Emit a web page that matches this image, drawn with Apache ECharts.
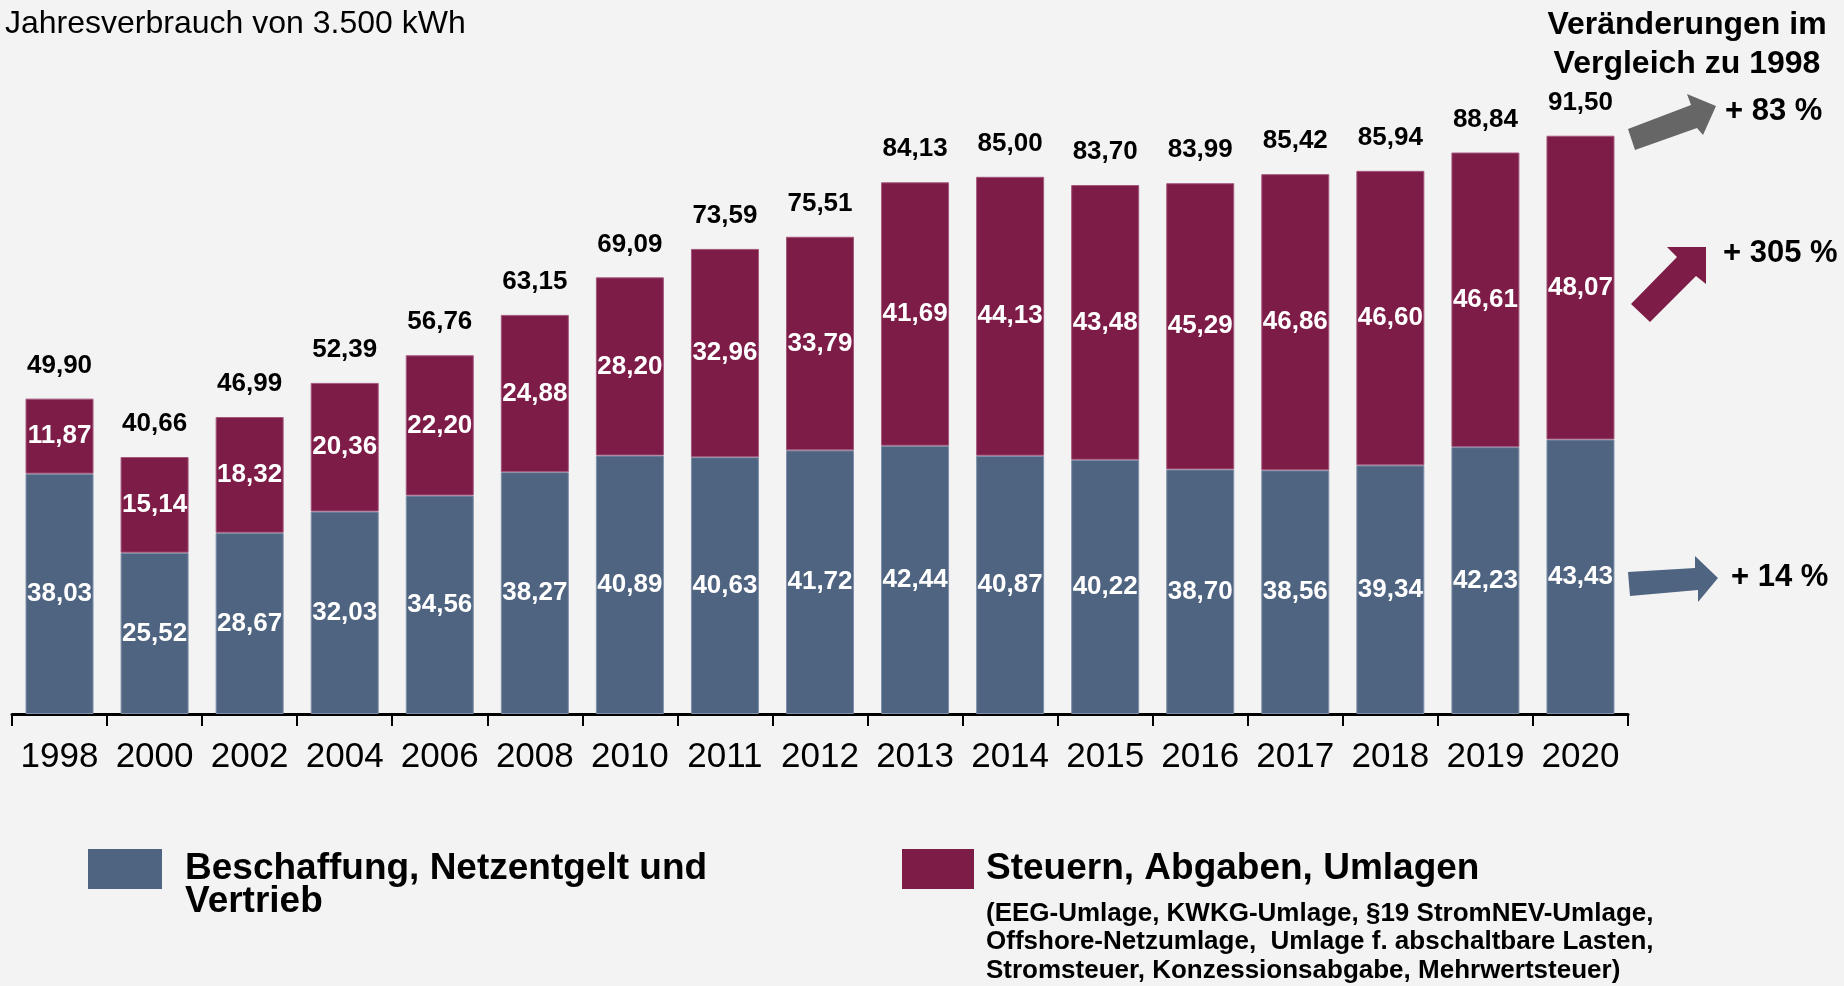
<!DOCTYPE html>
<html>
<head>
<meta charset="utf-8">
<script src="https://cdn.jsdelivr.net/npm/echarts@6/dist/echarts.min.js"></script>
<style>
  html, body { margin: 0; padding: 0; background: #F3F3F3; }
  #chart { width: 1844px; height: 986px; }
</style>
</head>
<body>
<div id="chart"></div>
<script>
(function(){
	var years = ['1998','2000','2002','2004','2006','2008','2010','2011','2012','2013','2014','2015','2016','2017','2018','2019','2020'];
	var beschaffung = [38.03,25.52,28.67,32.03,34.56,38.27,40.89,40.63,41.72,42.44,40.87,40.22,38.70,38.56,39.34,42.23,43.43];
	var steuern = [11.87,15.14,18.32,20.36,22.20,24.88,28.20,32.96,33.79,41.69,44.13,43.48,45.29,46.86,46.60,46.61,48.07];
	var summe = [49.90,40.66,46.99,52.39,56.76,63.15,69.09,73.59,75.51,84.13,85.00,83.70,83.99,85.42,85.94,88.84,91.50];
	var changes = ['+ 83 %', '+ 305 %', '+ 14 %'];

	var font = '"Liberation Sans", Arial, sans-serif';
	var blue = '#4F6481';
	var maroon = '#7E1C48';
	var fmt = function(v){ return v.toFixed(2).replace('.', ','); };

	var option = {
		backgroundColor: '#F3F3F3',
		animation: false,
		textStyle: { fontFamily: font },
		title: {
			text: 'Jahresverbrauch von 3.500 kWh',
			left: 5,
			top: 8,
			padding: 0,
			textStyle: { fontFamily: font, fontSize: 32, fontWeight: 'normal', color: '#000' }
		},
		grid: { left: 12, right: 216, top: 82, bottom: 272 },
		xAxis: {
			type: 'category',
			data: years,
			axisLine: { lineStyle: { color: '#000', width: 3 } },
			axisTick: { show: true, length: 12, lineStyle: { color: '#000', width: 2 } },
			axisLabel: { interval: 0, margin: 26, fontSize: 35, color: '#000', fontFamily: font }
		},
		yAxis: {
			type: 'value',
			min: 0,
			max: 100,
			show: false,
			splitLine: { show: false }
		},
		legend: [
			{
				data: ['Beschaffung, Netzentgelt und Vertrieb'],
				left: 88,
				top: 849,
				padding: 0,
				icon: 'rect',
				itemWidth: 74,
				itemHeight: 40,
				itemStyle: { borderWidth: 0 },
				selectedMode: false,
				formatter: function(){ return 'Beschaffung, Netzentgelt und'; },
				textStyle: {
					fontFamily: font, fontSize: 37, fontWeight: 'bold', color: '#000',
					padding: [0, 0, 0, 18]
				}
			},
			{
				data: ['Steuern, Abgaben, Umlagen'],
				left: 902,
				top: 849,
				padding: 0,
				icon: 'rect',
				itemWidth: 72,
				itemHeight: 40,
				itemStyle: { borderWidth: 0 },
				selectedMode: false,
				textStyle: {
					fontFamily: font, fontSize: 37, fontWeight: 'bold', color: '#000',
					padding: [0, 0, 0, 7]
				}
			}
		],
		graphic: [
			{
				type: 'text',
				x: 185, y: 902,
				style: {
					text: 'Vertrieb',
					font: 'bold 37px ' + font,
					fill: '#000',
					verticalAlign: 'middle'
				}
			},
			{
				type: 'text',
				x: 986, y: 942,
				style: {
					text: '(EEG-Umlage, KWKG-Umlage, §19 StromNEV-Umlage,\nOffshore-Netzumlage,  Umlage f. abschaltbare Lasten,\nStromsteuer, Konzessionsabgabe, Mehrwertsteuer)',
					font: 'bold 26px ' + font,
					lineHeight: 28.5,
					fill: '#000',
					verticalAlign: 'middle'
				}
			},
			{
				type: 'text',
				x: 1687, y: 45,
				style: {
					text: 'Veränderungen im\nVergleich zu 1998',
					font: 'bold 32px ' + font,
					lineHeight: 39,
					fill: '#000',
					align: 'center',
					verticalAlign: 'middle'
				}
			},
			{
				type: 'polygon',
				shape: { points: [[1628,129],[1691,105],[1687,94],[1716,106],[1703,135],[1697,128],[1635,150]] },
				style: { fill: '#666666' }
			},
			{
				type: 'polygon',
				shape: { points: [[1631,304],[1677,257],[1667,247],[1706,247],[1706,284],[1696,276],[1650,322]] },
				style: { fill: maroon }
			},
			{
				type: 'polygon',
				shape: { points: [[1628,572],[1695,568],[1695,556],[1718,578],[1698,602],[1698,590],[1630,596]] },
				style: { fill: blue }
			},
			{
				type: 'text', x: 1725, y: 111,
				style: { text: changes[0], font: 'bold 31px ' + font, fill: '#000', verticalAlign: 'middle' }
			},
			{
				type: 'text', x: 1723, y: 253,
				style: { text: changes[1], font: 'bold 31px ' + font, fill: '#000', verticalAlign: 'middle' }
			},
			{
				type: 'text', x: 1731, y: 577,
				style: { text: changes[2], font: 'bold 31px ' + font, fill: '#000', verticalAlign: 'middle' }
			}
		],
		series: [
			{
				name: 'Beschaffung, Netzentgelt und Vertrieb',
				type: 'bar',
				stack: 'preis',
				barWidth: 68,
				data: beschaffung,
				itemStyle: { color: blue, borderColor: '#7f90a8', borderWidth: 1 },
				label: {
					show: true,
					position: 'inside',
					color: '#fff',
					fontFamily: font,
					fontSize: 26,
					fontWeight: 'bold',
					formatter: function(p){ return fmt(p.value); }
				}
			},
			{
				name: 'Steuern, Abgaben, Umlagen',
				type: 'bar',
				stack: 'preis',
				barWidth: 68,
				data: steuern,
				itemStyle: { color: maroon, borderColor: '#a4577c', borderWidth: 1 },
				label: {
					show: true,
					position: 'inside',
					color: '#fff',
					fontFamily: font,
					fontSize: 26,
					fontWeight: 'bold',
					formatter: function(p){ return fmt(p.value); }
				}
			},
			{
				name: 'Summe',
				type: 'bar',
				barWidth: 68,
				barGap: '-100%',
				silent: true,
				z: 1,
				data: summe,
				itemStyle: { color: 'rgba(0,0,0,0)' },
				label: {
					show: true,
					position: 'top',
					distance: 20,
					color: '#000',
					fontFamily: font,
					fontSize: 26,
					fontWeight: 'bold',
					formatter: function(p){ return fmt(p.value); }
				}
			}
		]
	};

	var chart = echarts.init(document.getElementById('chart'));
	chart.setOption(option);
})();
</script>
</body>
</html>
